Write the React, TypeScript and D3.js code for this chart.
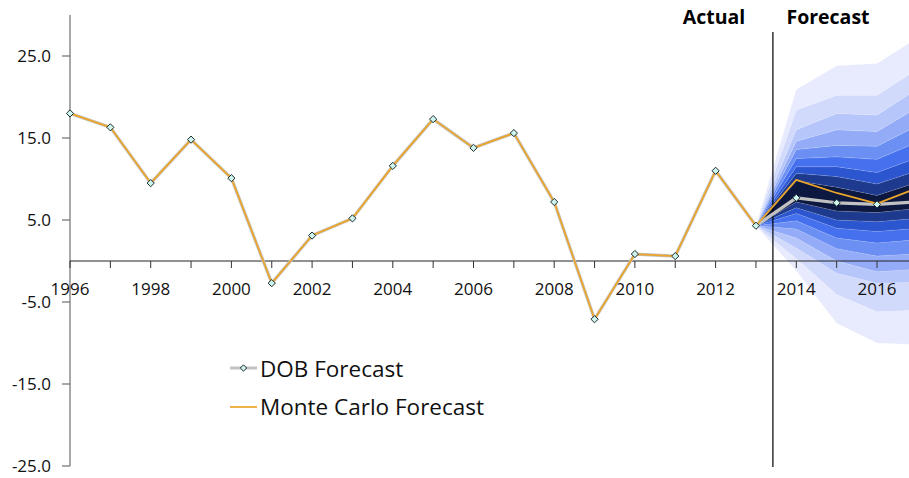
import React from "react";
import * as d3 from "d3";

const actualYears = [1996, 1997, 1998, 1999, 2000, 2001, 2002, 2003, 2004, 2005, 2006, 2007, 2008, 2009, 2010, 2011, 2012, 2013];
const actualValues = [18.0, 16.3, 9.5, 14.8, 10.1, -2.7, 3.1, 5.2, 11.6, 17.3, 13.8, 15.6, 7.2, -7.1, 0.85, 0.6, 11.0, 4.3];

const forecastYears = [2013, 2014, 2015, 2016, 2017];
const dobForecast = [4.3, 7.7, 7.1, 6.9, 7.2];
const monteCarloForecast = [4.3, 9.9, 8.3, 7.0, 8.9];

// fan boundaries per year, from outermost lower to outermost upper
const fan2013 = [4.3, 4.3, 4.3, 4.3, 4.3, 4.3, 4.3, 4.3, 4.3, 4.3, 4.3, 4.3, 4.3, 4.3, 4.3, 4.3, 4.3, 4.3];
const fan2014 = [-1.2, 0.3, 1.6, 2.8, 3.9, 4.9, 5.8, 6.5, 7.2, 9.8, 10.7, 11.5, 12.5, 13.6, 14.6, 16.0, 18.4, 20.9];
const fan2015 = [-7.6, -4.1, -1.5, 0.0, 1.5, 2.8, 4.0, 5.0, 6.1, 9.0, 10.3, 11.5, 12.7, 14.1, 16.0, 18.0, 20.2, 23.8];
const fan2016 = [-10.0, -6.2, -2.7, -1.3, 0.6, 2.2, 3.6, 4.8, 5.9, 8.0, 9.4, 10.8, 12.4, 14.0, 15.8, 17.8, 20.2, 24.1];
const fan2017 = [-10.2, -6.0, -2.6, -1.0, 0.9, 2.6, 4.0, 5.2, 6.4, 9.6, 11.0, 12.6, 14.5, 16.5, 18.7, 21.0, 23.4, 27.2];
const fanByYear = [fan2013, fan2014, fan2015, fan2016, fan2017];

const bandColorsOuterToInner = ["#e8ebfd", "#d2dafb", "#b6c6fa", "#94acf7", "#6c8ff4", "#4570ee", "#2c56d0", "#1d3a8e"];
const centerColor = "#0c1840";

const yTicks = [25, 15, 5, -5, -15, -25];
const xLabelYears = [1996, 1998, 2000, 2002, 2004, 2006, 2008, 2010, 2012, 2014, 2016];
const xTickYears = d3.range(1996, 2018);

const W = 909;
const H = 478;
const FONT = "'Open Sans', 'Noto Sans', sans-serif";

export default function App() {
  const x = d3.scaleLinear().domain([1996, 2017]).range([70, 70 + 21 * 40.35]);
  const y = d3.scaleLinear().domain([-25, 30]).range([466, 15]);

  const nB = fan2013.length;
  const bands: { path: string; color: string }[] = [];
  for (let i = 0; i < nB - 1; i++) {
    const area = d3
      .area<number>()
      .x((_, k) => x(forecastYears[k]))
      .y0((_, k) => y(fanByYear[k][i]))
      .y1((_, k) => y(fanByYear[k][i + 1]));
    const half = (nB - 2) / 2;
    let color: string;
    if (i === half) color = centerColor;
    else if (i < half) color = bandColorsOuterToInner[i];
    else color = bandColorsOuterToInner[nB - 2 - i];
    bands.push({ path: area(forecastYears.map((_, k) => k)) || "", color });
  }

  const allYears = actualYears.concat(forecastYears.slice(1));
  const dobAll = actualValues.concat(dobForecast.slice(1));
  const mcAll = actualValues.concat(monteCarloForecast.slice(1));
  const line = d3
    .line<number>()
    .x((_, k) => x(allYears[k]))
    .y((v) => y(v));

  const diamond = (cx: number, cy: number, r = 3.6) =>
    `M${cx},${cy - r}L${cx + r},${cy}L${cx},${cy + r}L${cx - r},${cy}Z`;

  const divX = x(2013.42);

  return (
    <div style={{ position: "absolute", left: 0, top: 0 }}>
      <svg width={W} height={H} style={{ display: "block", background: "#fff" }}>
        <g>
          {bands.map((b, i) => (
            <path key={i} d={b.path} fill={b.color} stroke="rgba(255,255,255,0.18)" strokeWidth={0.6} />
          ))}
        </g>
        <line x1={70} x2={70} y1={y(30)} y2={y(-25)} stroke="#6e6e6e" strokeWidth={1.2} />
        {yTicks.map((t) => (
          <g key={t}>
            <line x1={62} x2={70} y1={y(t)} y2={y(t)} stroke="#6e6e6e" strokeWidth={1.2} />
            <text x={51} y={y(t)} dy="0.36em" textAnchor="end" fontFamily={FONT} fontSize={17} fill="#111">
              {t.toFixed(1)}
            </text>
          </g>
        ))}
        <line x1={70} x2={W} y1={y(0)} y2={y(0)} stroke="#222" strokeWidth={1.2} />
        {xTickYears.map((yr) => (
          <line key={yr} x1={x(yr)} x2={x(yr)} y1={y(0)} y2={y(0) + 7} stroke="#333" strokeWidth={1} />
        ))}
        {xLabelYears.map((yr) => (
          <text key={yr} x={x(yr)} y={295} textAnchor="middle" fontFamily={FONT} fontSize={17} fill="#111">
            {yr}
          </text>
        ))}
        <line x1={divX} x2={divX} y1={32} y2={467} stroke="#000" strokeWidth={1.2} />
        <text x={714} y={24} textAnchor="middle" fontFamily={FONT} fontWeight="bold" fontSize={19.5} fill="#000">
          Actual
        </text>
        <text x={828} y={24} textAnchor="middle" fontFamily={FONT} fontWeight="bold" fontSize={19.5} fill="#000">
          Forecast
        </text>
        <path d={line(dobAll) || ""} fill="none" stroke="#c2c2c2" strokeWidth={3.2} strokeLinejoin="round" />
        <path d={line(mcAll) || ""} fill="none" stroke="#eba52a" strokeWidth={1.7} strokeLinejoin="round" />
        {dobAll.map((v, k) => (
          <path key={k} d={diamond(x(allYears[k]), y(v))} fill="#cdf4ee" stroke="#1c2a2a" strokeWidth={1} />
        ))}
        <line x1={230} x2={257} y1={368} y2={368} stroke="#c2c2c2" strokeWidth={3} />
        <path d={diamond(243.5, 368, 3.2)} fill="#cdf4ee" stroke="#1c2a2a" strokeWidth={1} />
        <text x={260} y={377} fontFamily={FONT} fontSize={22.5} fill="#111">
          DOB Forecast
        </text>
        <line x1={230} x2={257} y1={407} y2={407} stroke="#eba52a" strokeWidth={1.7} />
        <text x={260} y={415} fontFamily={FONT} fontSize={22.5} fill="#111">
          Monte Carlo Forecast
        </text>
      </svg>
    </div>
  );
}
